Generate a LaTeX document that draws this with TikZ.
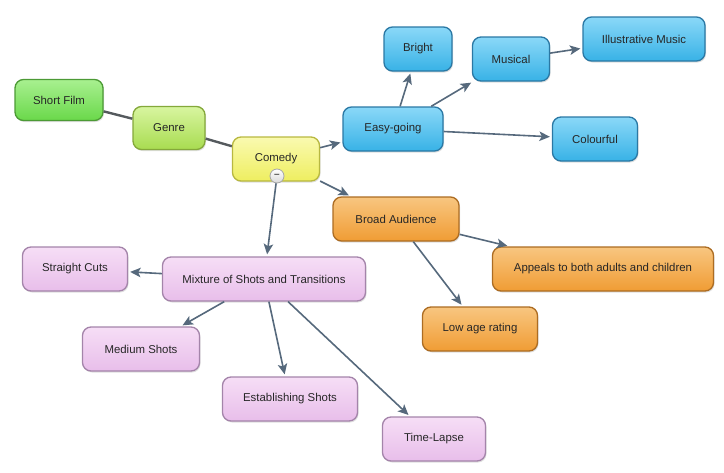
\documentclass[tikz,border=0pt]{standalone}
\usepackage{fontspec}
\setmainfont{Liberation Sans}
\usetikzlibrary{arrows.meta,shadows}
\definecolor{edgec}{HTML}{56697C}
\definecolor{linkc}{HTML}{555A5E}
\definecolor{gAtop}{HTML}{A8F090}\definecolor{gAbot}{HTML}{6AD84A}\definecolor{gAbd}{HTML}{4C9A35}
\definecolor{gBtop}{HTML}{D8F5A0}\definecolor{gBbot}{HTML}{A8DC50}\definecolor{gBbd}{HTML}{84A83A}
\definecolor{ytop}{HTML}{FAFAB0}\definecolor{ybot}{HTML}{EEEE60}\definecolor{ybd}{HTML}{B8B840}
\definecolor{btop}{HTML}{8AD8F8}\definecolor{bbot}{HTML}{38B2E6}\definecolor{bbd}{HTML}{2A78A4}
\definecolor{otop}{HTML}{F8C680}\definecolor{obot}{HTML}{F09C34}\definecolor{obd}{HTML}{AC6C22}
\definecolor{ptop}{HTML}{F6DEF6}\definecolor{pbot}{HTML}{E8BEEA}\definecolor{pbd}{HTML}{A484AA}
\tikzset{
  box/.style={draw, line width=1.3pt, rounded corners=8.5pt, inner sep=0pt,
    font=\fontsize{11.4}{13}\selectfont, text=black!85,
    drop shadow={shadow xshift=1pt, shadow yshift=-1.5pt, opacity=0.25}},
  greenA/.style={box, draw=gAbd, top color=gAtop, bottom color=gAbot},
  greenB/.style={box, draw=gBbd, top color=gBtop, bottom color=gBbot},
  yel/.style={box, draw=ybd, top color=ytop, bottom color=ybot},
  blu/.style={box, draw=bbd, top color=btop, bottom color=bbot},
  ora/.style={box, draw=obd, top color=otop, bottom color=obot},
  pnk/.style={box, draw=pbd, top color=ptop, bottom color=pbot},
  arr/.style={draw=edgec, line width=1.6pt, -{Stealth[length=10.5pt,width=9.5pt,inset=2.5pt]}, shorten >=2pt},
  lnk/.style={draw=linkc, line width=2.4pt},
}
\begin{document}
\begin{tikzpicture}[x=1pt,y=-1pt]
\useasboundingbox (0,0) rectangle (724,472);
% nodes
\node[greenA, minimum width=88pt, minimum height=41pt] (sf) at (59,100) {Short Film};
\node[greenB, minimum width=72pt, minimum height=43pt] (ge) at (169,128) {Genre};
\node[yel, minimum width=87pt, minimum height=44pt] (co) at (276,159) {Comedy};
\node[blu, minimum width=100pt, minimum height=44pt] (eg) at (393,129) {Easy-going};
\node[blu, minimum width=68pt, minimum height=44pt] (br) at (418,49) {Bright};
\node[blu, minimum width=77pt, minimum height=44pt] (mu) at (511,59) {Musical};
\node[blu, minimum width=122pt, minimum height=44pt] (im) at (644,39) {Illustrative Music};
\node[blu, minimum width=85pt, minimum height=44pt] (cf) at (595,139) {Colourful};
\node[ora, minimum width=126pt, minimum height=44pt] (ba) at (396,219) {Broad Audience};
\node[ora, minimum width=221pt, minimum height=44pt] (ap) at (603,269) {Appeals to both adults and children};
\node[ora, minimum width=115pt, minimum height=44pt] (la) at (480,329) {Low age rating};
\node[pnk, minimum width=203pt, minimum height=44pt] (mx) at (264,279) {Mixture of Shots and Transitions};
\node[pnk, minimum width=105pt, minimum height=44pt] (sc) at (75,269) {Straight Cuts};
\node[pnk, minimum width=117pt, minimum height=44pt] (ms) at (141,349) {Medium Shots};
\node[pnk, minimum width=135pt, minimum height=44pt] (es) at (290,399) {Establishing Shots};
\node[pnk, minimum width=103pt, minimum height=44pt] (tl) at (434,439) {Time-Lapse};
% collapse button
\node[circle, draw=gray!70, line width=0.8pt, top color=white, bottom color=gray!30,
  minimum size=14pt, inner sep=0pt, font=\fontsize{10}{10}\selectfont\bfseries, text=black!70] (btn) at (277,176) {--};
% links
\draw[lnk] (sf) -- (ge);
\draw[lnk] (ge) -- (co);
% arrows
\draw[arr] (co) -- (eg);
\draw[arr] (co) -- (ba);
\draw[arr] (btn) -- (mx);
\draw[arr] (eg) -- (br);
\draw[arr] (eg) -- (mu);
\draw[arr] (mu) -- (im);
\draw[arr] (eg) -- (cf);
\draw[arr] (ba) -- (ap);
\draw[arr] (ba) -- (la);
\draw[arr] (mx) -- (sc);
\draw[arr] (mx) -- (ms);
\draw[arr] (mx) -- (es);
\draw[arr] (mx) -- (tl);
\end{tikzpicture}
\end{document}
